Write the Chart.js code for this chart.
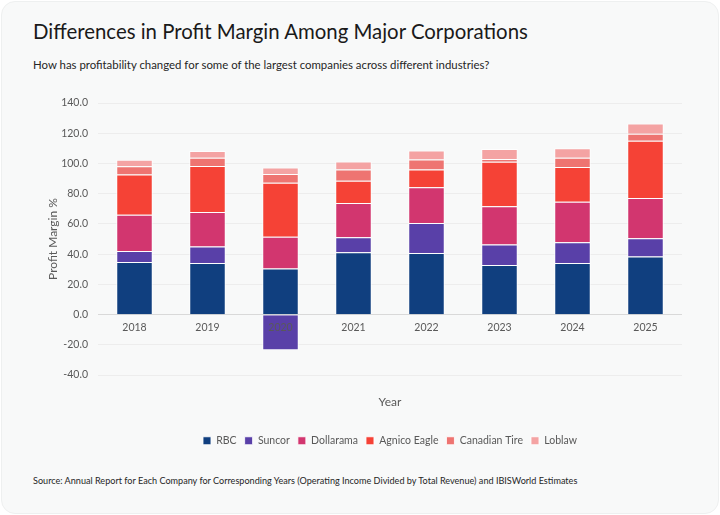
<!DOCTYPE html>
<html>
<head>
<meta charset="utf-8">
<script src="https://cdn.jsdelivr.net/npm/chart.js@4.4.1/dist/chart.umd.min.js"></script>
<style>
  html, body { margin: 0; padding: 0; background: #ffffff; }
  body { width: 720px; height: 515px; position: relative; overflow: hidden; font-family: Lato, "Open Sans", sans-serif; }
  .card { position: absolute; left: 1px; top: 1px; width: 716px; height: 511px; background: #f8f9f9; border: 1px solid #eef0f0; border-radius: 14px; }
  .title { position: absolute; left: 33px; top: 19px; font-size: 20.4px; color: #1a1a1a; white-space: nowrap; }
  .subtitle { position: absolute; left: 33px; top: 58px; font-size: 11.4px; color: #262626; white-space: nowrap; }
  .source { position: absolute; left: 33px; top: 475px; font-size: 9.1px; color: #262626; white-space: nowrap; }
  .wrap { position: absolute; left: 0; top: 85px; width: 720px; height: 375px; }
</style>
</head>
<body>
<div class="card"></div>
<div class="title">Differences in Profit Margin Among Major Corporations</div>
<div class="subtitle">How has profitability changed for some of the largest companies across different industries?</div>
<div class="source">Source: Annual Report for Each Company for Corresponding Years (Operating Income Divided by Total Revenue) and IBISWorld Estimates</div>
<div class="wrap"><canvas id="c"></canvas></div>
<script>
const years = ['2018', '2019', '2020', '2021', '2022', '2023', '2024', '2025'];
const rbc          = [34.8, 34.2, 30.5, 41.3, 40.8, 32.8, 34.2, 38.4];
const suncor       = [7.3, 10.8, -23.6, 9.9, 19.9, 13.6, 13.7, 12.1];
const dollarama    = [23.9, 22.9, 21.1, 22.7, 23.6, 25.3, 26.7, 26.7];
const agnicoEagle  = [26.7, 30.5, 35.6, 14.6, 11.7, 29.4, 23.1, 37.8];
const canadianTire = [5.5, 5.3, 5.9, 7.5, 6.6, 1.9, 6.0, 4.6];
const loblaw       = [4.2, 4.6, 4.2, 5.3, 6.0, 6.5, 6.4, 6.9];
const yTicks = { min: -40, max: 140, step: 20 };

const series = [
  ['RBC', rbc, '#103f7f'],
  ['Suncor', suncor, '#5940a8'],
  ['Dollarama', dollarama, '#d2366f'],
  ['Agnico Eagle', agnicoEagle, '#f54236'],
  ['Canadian Tire', canadianTire, '#ee7471'],
  ['Loblaw', loblaw, '#f4a3a3']
];

const FONT = 'Lato';
const GRAY = '#595959';

new Chart(document.getElementById('c'), {
  type: 'bar',
  data: {
    labels: years,
    datasets: series.map(([label, data, color]) => ({
      label, data,
      backgroundColor: color,
      borderColor: 'rgba(255,255,255,0.85)',
      borderWidth: 1,
      barPercentage: 0.5,
      categoryPercentage: 1.0,
      xAxisID: 'x',
      yAxisID: 'y'
    }))
  },
  options: {
    responsive: true,
    maintainAspectRatio: false,
    animation: false,
    layout: { padding: { left: 40, right: 38, top: 18, bottom: 4 } },
    plugins: {
      title: { display: false },
      tooltip: { enabled: false },
      legend: {
        position: 'bottom',
        fullSize: false,
        labels: {
          boxWidth: 8, boxHeight: 8, padding: 8,
          color: GRAY,
          font: { family: FONT, size: 10.5 }
        }
      }
    },
    scales: {
      x: {
        stacked: true,
        position: 'bottom',
        grid: { display: false, drawTicks: false },
        border: { display: false },
        ticks: { display: false },
        title: {
          display: true, text: 'Year', color: GRAY,
          font: { family: FONT, size: 12 },
          padding: { top: 20, bottom: 18 }
        }
      },
      x2: {
        type: 'category',
        labels: years,
        offset: true,
        position: { y: 0 },
        grid: { display: false, drawTicks: false },
        border: { display: false },
        ticks: { z: 1, color: GRAY, padding: 7, font: { family: FONT, size: 10.5 } }
      },
      y: {
        stacked: true,
        min: yTicks.min, max: yTicks.max,
        afterFit: (s) => { s.width = 58; },
        border: { display: false },
        grid: {
          drawTicks: false,
          color: (ctx) => ctx.tick && ctx.tick.value === 0 ? '#d9d9d9' : '#ededed',
          lineWidth: 1
        },
        ticks: {
          stepSize: yTicks.step,
          padding: 10,
          color: GRAY,
          font: { family: FONT, size: 10.5 },
          callback: (v) => Number(v).toFixed(1)
        },
        title: {
          display: true, text: 'Profit Margin %', color: GRAY,
          font: { family: FONT, size: 12 },
          padding: { top: 6, bottom: 0 }
        }
      }
    }
  }
});
</script>
</body>
</html>
